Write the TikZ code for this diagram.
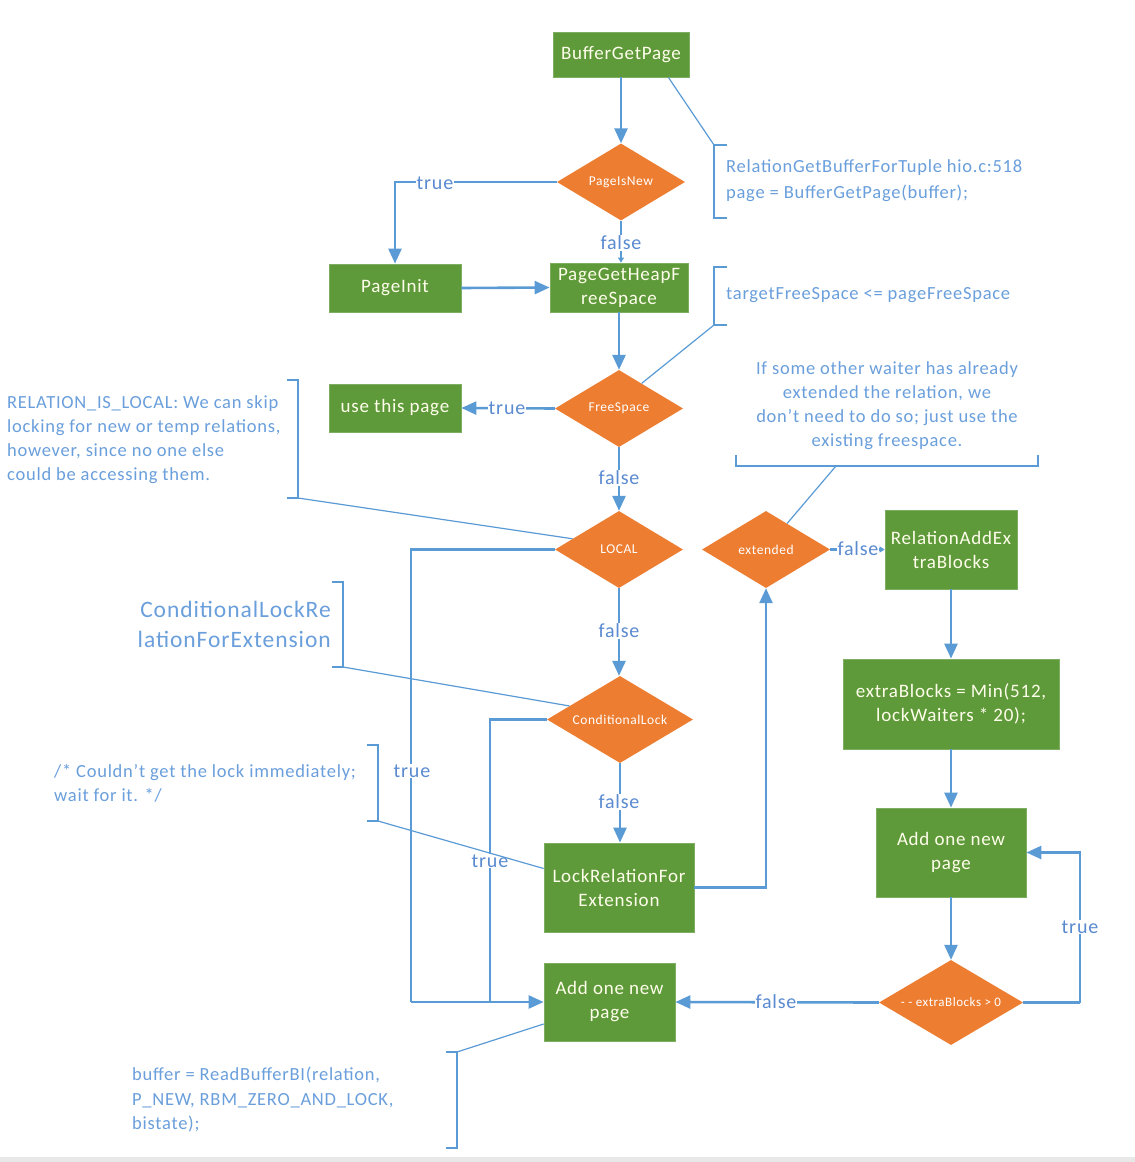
\documentclass[tikz,border=0pt]{standalone}
\usepackage{fontspec}
\setmainfont{Carlito}[LetterSpace=4]
\usetikzlibrary{shapes.geometric,arrows.meta,calc}
\definecolor{bgreen}{HTML}{5E9A3A}
\definecolor{dor}{HTML}{ED7D31}
\definecolor{lblue}{HTML}{5B9BD5}
\definecolor{tblue}{HTML}{5A8AD0}
\definecolor{ntxt}{HTML}{6A9FDC}
\newcommand{\dtext}[1]{\makebox[0pt]{#1}}
\begin{document}
\begin{tikzpicture}[x=1pt,y=-1pt,
 box/.style={rectangle, fill=bgreen, draw=bgreen!80!white, line width=0.8pt, text=white!92!yellow, font=\fontsize{19}{24}\selectfont, align=center, inner sep=0pt},
 dec/.style={diamond, fill=dor, inner sep=0pt, text=white, font=\fontsize{13.5}{15}\selectfont, minimum width=128pt, minimum height=77pt},
 conn/.style={draw=lblue, line width=2.6pt},
 arr/.style={conn, -{Triangle[length=15pt,width=13pt]}},
 sarr/.style={conn, -{Triangle[length=5pt,width=6pt]}},
 lbl/.style={fill=white, text=tblue, font=\fontsize{20}{22}\selectfont, inner sep=1pt},
 note/.style={text=ntxt, font=\fontsize{18.5}{24}\selectfont, align=left, inner sep=0pt},
 ann/.style={draw=lblue, line width=1.2pt},
]
\useasboundingbox (0,0) rectangle (1135,1162);
\fill[white] (0,0) rectangle (1135,1162);
\fill[gray!18] (0,1157) rectangle (1135,1162);

% boxes
\node[box, minimum width=136pt, minimum height=45pt] (bgp) at (621,54.5) {BufferGetPage};
\node[box, minimum width=132pt, minimum height=48pt] (pinit) at (395,288) {PageInit};
\node[box, minimum width=138pt, minimum height=49pt] (pghfs) at (619,287.5) {PageGetHeapF\\reeSpace};
\node[box, minimum width=132pt, minimum height=48pt] (use) at (395,408) {use this page};
\node[box, minimum width=132pt, minimum height=79pt] (rae) at (951,549.5) {RelationAddEx\\traBlocks};
\node[box, minimum width=150pt, minimum height=89pt] (lrfe) at (619,887.5) {LockRelationFor\\Extension};
\node[box, minimum width=131pt, minimum height=78pt] (anp) at (609.5,1002) {Add one new\\page};
\node[box, minimum width=216pt, minimum height=90pt] (eb) at (951,704) {extraBlocks = Min(512,\\lockWaiters * 20);};
\node[box, minimum width=150pt, minimum height=89pt] (anp2) at (951,852.5) {Add one new\\page};

% decisions
\node[dec] (pin) at (621,182) {\dtext{PageIsNew}};
\node[dec] (fs) at (619,408.5) {\dtext{FreeSpace}};
\node[dec] (local) at (619,549.5) {\dtext{LOCAL}};
\node[dec] (ext) at (766,549.5) {\dtext{extended}};
\node[dec, minimum width=146pt, minimum height=87pt] (cl) at (620,719.5) {\dtext{ConditionalLock}};
\node[dec, minimum width=144pt, minimum height=85pt, font=\fontsize{13}{15}\selectfont] (chk) at (951,1002.5) {\dtext{- - extraBlocks > 0}};

% junction coordinates
\coordinate (j1) at (411,1002);
\coordinate (j2) at (490,1002);
\coordinate (lp) at (1080,1002.5);

% connectors
\draw[arr] (bgp.south) -- (pin.north);
\draw[arr] (pin.west) -| (pinit.north);
\node[lbl] at (435,183) {true};
\draw[sarr] (pin.south) -- (pghfs.north -| pin.south);
\node[lbl] at (621,243) {false};
\draw[arr] (pinit.east) -- (pghfs.west);
\draw[arr] (pghfs.south) -- (fs.north);
\draw[arr] (fs.west) -- (use.east);
\node[lbl] at (507,408) {true};
\draw[arr] (fs.south) -- (local.north);
\node[lbl] at (619,478) {false};
\draw[arr] (local.south) -- (cl.north -| local.south);
\node[lbl] at (619,631) {false};
\draw[arr] (cl.south) -- (lrfe.north -| cl.south);
\node[lbl] at (619,802) {false};
\draw[conn] (local.west) -| (j1);
\draw[arr] (j1) -- (anp.west);
\node[lbl] at (412,771) {true};
\draw[conn] (cl.west) -| (j2);
\node[lbl] at (490,861) {true};
\draw[arr] (lrfe.east) -| (ext.south);
\draw[sarr] (ext.east) -- (rae.west);
\node[lbl] at (858,549) {false};
\draw[arr] (rae.south) -- (eb.north);
\draw[arr] (eb.south) -- (anp2.north);
\draw[arr] (anp2.south) -- (chk.north);
\draw[conn] (chk.east) -- (lp);
\draw[arr] (lp) |- (anp2.east);
\node[lbl] at (1080,927) {true};
\draw[arr] (chk.west) -- (anp.east);
\node[lbl] at (776,1002) {false};

% annotations
\node[note, anchor=west, font=\fontsize{18.5}{26}\selectfont] (n1) at (726,181) {RelationGetBufferForTuple hio.c:518\\page = BufferGetPage(buffer);};
\draw[ann] (727,145) -- (714,145) -- (714,218) -- (727,218);
\draw[ann] ($(bgp.south east)+(-21,0)$) -- (714,145);

\node[note, anchor=west] (n2) at (726,295) {targetFreeSpace <= pageFreeSpace};
\draw[ann] (727,267) -- (714,267) -- (714,325) -- (727,325);
\draw[ann] (714,325) -- (fs.48);

\node[note, anchor=west] (n3) at (7,440) {RELATION\_IS\_LOCAL: We can skip\\locking for new or temp relations,\\however, since no one else\\could be accessing them.};
\draw[ann] (287,380) -- (298,380) -- (298,498) -- (287,498);
\draw[ann] (298,498) -- (local.167);

\node[note, anchor=east, align=right, font=\fontsize{23.5}{30}\selectfont] (n4) at (331,624) {ConditionalLockRe\\lationForExtension};
\draw[ann] (332,582) -- (343,582) -- (343,667) -- (332,667);
\draw[ann] (343,667) -- (cl.165);

\node[note, anchor=west] (n5) at (54,783) {/* Couldn't get the lock immediately;\\wait for it. */};
\draw[ann] (367,745) -- (378,745) -- (378,821) -- (367,821);
\draw[ann] (378,821) -- ($(lrfe.west)+(0,-19)$);

\node[note, align=center] (n6) at (887,406) {If some other waiter has already\\extended the relation, we\\don't need to do so; just use the\\existing freespace.};
\draw[ann] (736,455) -- (736,466) -- (1038,466) -- (1038,455);
\draw[ann] (836,466) -- (ext.51);

\node[note, anchor=west, font=\fontsize{18.5}{24.5}\selectfont] (n7) at (132,1100) {buffer = ReadBufferBI(relation,\\P\_NEW, RBM\_ZERO\_AND\_LOCK,\\bistate);};
\draw[ann] (446,1052) -- (457,1052) -- (457,1148) -- (446,1148);
\draw[ann] (457,1052) -- ($(anp.west)+(0,22)$);
\end{tikzpicture}
\end{document}
